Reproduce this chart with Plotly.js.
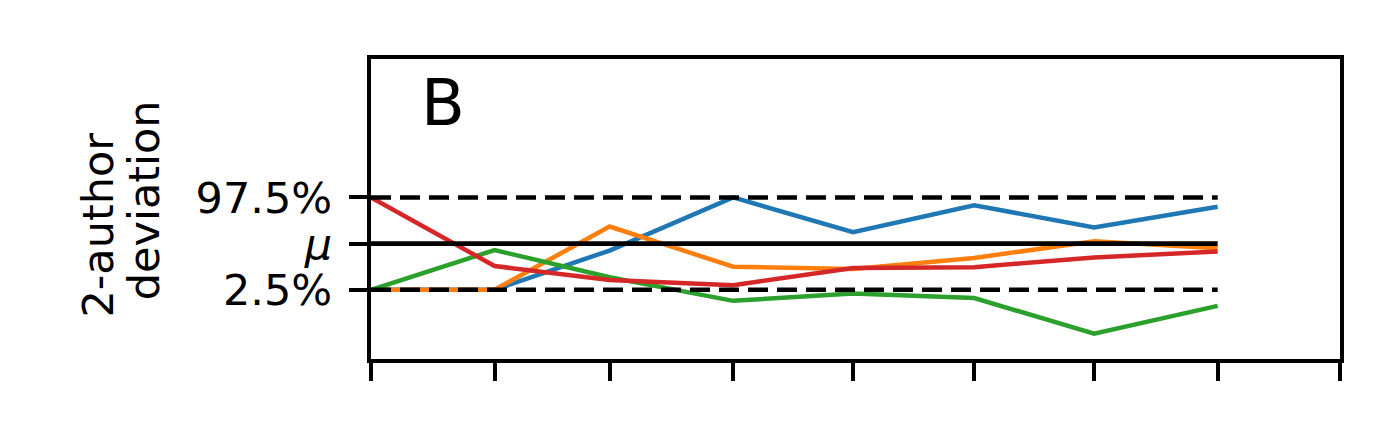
<!DOCTYPE html>
<html>
<head>
<meta charset="utf-8">
<script src="https://cdn.plot.ly/plotly-3.0.1.min.js"></script>
<style>
  html, body { margin: 0; padding: 0; background: #fff; }
  #chart { width: 1400px; height: 438px; }
</style>
</head>
<body>
<div id="chart"></div>
<script>
// x positions of the runs (ticks carry no labels)
const xVals = [0, 1.02, 1.97, 2.99, 3.98, 4.98, 5.97, 6.99];
const xTicks = [0, 1.02, 1.97, 2.99, 3.98, 4.98, 5.97, 6.99, 8];

// deviation in units of the band: +1 = 97.5%, 0 = mean, -1 = 2.5%
const blueVals = [-1, -1, -0.15, 1.0, 0.25, 0.83, 0.35, 0.80];
const orangeVals = [-1, -1, 0.37, -0.5, -0.55, -0.31, 0.05, -0.1];
const greenVals = [-1, -0.14, -0.73, -1.24, -1.08, -1.18, -1.95, -1.35];
const redVals = [1.0, -0.485, -0.79, -0.9, -0.53, -0.51, -0.3, -0.17];

const bandVals = [1, 0, -1];
const bandLabels = ['97.5%', '<i>μ</i>', '2.5%'];

const seriesColors = ['#1f77b4', '#ff7f0e', '#2ca02c', '#d62728'];
const FONT = 'DejaVu Sans, Liberation Sans, sans-serif';

const traces = [blueVals, orangeVals, greenVals, redVals].map((ys, i) => ({
  x: xVals,
  y: ys,
  mode: 'lines',
  line: { color: seriesColors[i], width: 4.5 },
  hoverinfo: 'none'
}));

// reference lines on top: band edges dashed, mean solid
bandVals.forEach((v) => {
  traces.push({
    x: [xVals[0], xVals[xVals.length - 1]],
    y: [v, v],
    mode: 'lines',
    line: { color: '#000', width: 4.6, dash: v === 0 ? 'solid' : '20px,9px' },
    hoverinfo: 'none'
  });
});

const axisCommon = {
  showline: true,
  mirror: true,
  linecolor: '#000',
  linewidth: 4.2,
  ticks: 'outside',
  ticklen: 18,
  tickwidth: 4,
  tickcolor: '#000',
  showgrid: false,
  zeroline: false
};

const layout = {
  width: 1400,
  height: 438,
  margin: { l: 371, r: 60, t: 59, b: 79 },
  paper_bgcolor: '#fff',
  plot_bgcolor: '#fff',
  showlegend: false,
  font: { family: FONT, color: '#000', size: 43 },
  xaxis: {
    ...axisCommon,
    range: [0, 8],
    tickmode: 'array',
    tickvals: xTicks,
    showticklabels: false
  },
  yaxis: {
    ...axisCommon,
    range: [-2.5, 4],
    tickmode: 'array',
    tickvals: bandVals,
    ticktext: bandLabels,
    ticklabelstandoff: 8,
    tickfont: { family: FONT, size: 43, color: '#000' }
  },
  annotations: [
    {
      text: 'B',
      xref: 'paper', yref: 'paper',
      x: 0.0743, y: 0.853,
      xanchor: 'center', yanchor: 'middle',
      showarrow: false,
      font: { family: FONT, size: 64, color: '#000' }
    },
    {
      text: '2-author',
      xref: 'paper', yref: 'paper',
      x: -0.2817, y: 0.445,
      xanchor: 'center', yanchor: 'middle',
      textangle: -90,
      showarrow: false,
      font: { family: FONT, size: 43, color: '#000' }
    },
    {
      text: 'deviation',
      xref: 'paper', yref: 'paper',
      x: -0.234, y: 0.53,
      xanchor: 'center', yanchor: 'middle',
      textangle: -90,
      showarrow: false,
      font: { family: FONT, size: 43, color: '#000' }
    }
  ]
};

Plotly.newPlot('chart', traces, layout, { displayModeBar: false, staticPlot: true });
</script>
</body>
</html>
